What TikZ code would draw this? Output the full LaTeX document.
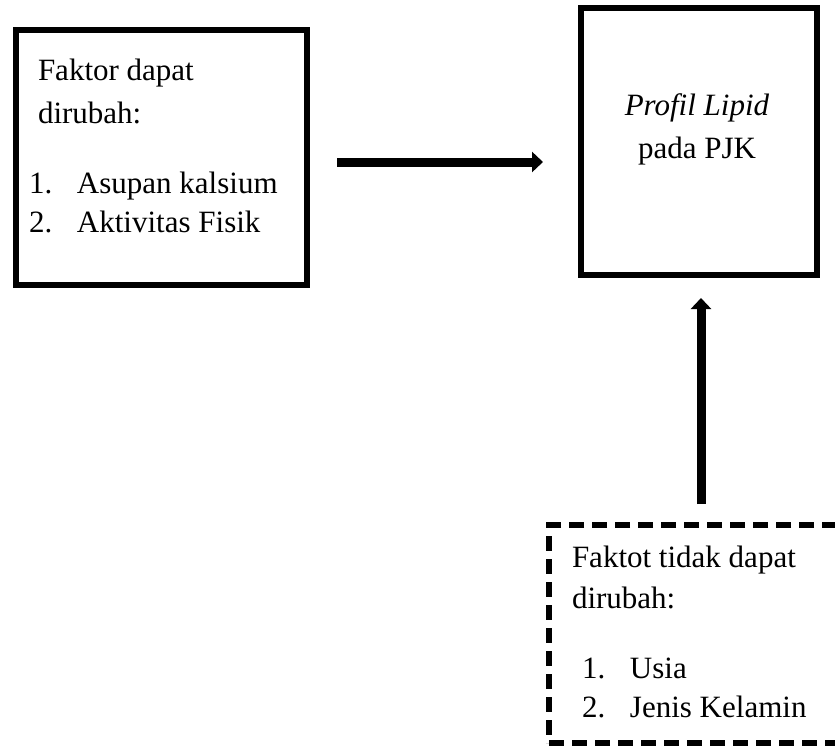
\documentclass[tikz,border=0pt]{standalone}
\usepackage{fontspec}
\setmainfont{Liberation Serif}
\usetikzlibrary{arrows.meta}
\begin{document}
\begin{tikzpicture}[x=1pt,y=-1pt,
  txt/.style={anchor=base west,inner sep=0pt,outer sep=0pt,font=\fontsize{31}{37}\selectfont},
  ctxt/.style={anchor=base,inner sep=0pt,outer sep=0pt,font=\fontsize{31}{37}\selectfont},
  solidbox/.style={draw,line width=6pt,outer sep=0pt,inner sep=0pt},
  dashbox/.style={draw,line width=5.5pt,dash pattern=on 15pt off 8pt,outer sep=0pt,inner sep=0pt},
  arr/.style={line width=9pt,-{Triangle[length=11pt,width=20pt]}}]
\useasboundingbox (0,0) rectangle (835,747);
\clip (0,0) rectangle (835,747);
% boxes
\node[solidbox,minimum width=291pt,minimum height=255pt] (b1) at (161.5,157.5) {};
\node[solidbox,minimum width=236pt,minimum height=267pt] (b2) at (699,141.5) {};
\node[dashbox,minimum width=311pt,minimum height=218pt] (b3) at (704.5,634) {};
% texts box 1
\node[txt] (t1a) at (38,80) {Faktor dapat};
\node[txt] (t1b) at (38,123) {dirubah:};
\node[txt] (t1c) at (29,193) {\makebox[48pt][l]{1.}Asupan kalsium};
\node[txt] (t1d) at (29,232) {\makebox[48pt][l]{2.}Aktivitas Fisik};
% texts box 2
\node[ctxt] (t2a) at (697,115) {\textit{Profil Lipid}};
\node[ctxt] (t2b) at (697,158) {pada PJK};
% texts box 3
\node[txt] (t3a) at (572,567) {Faktot tidak dapat};
\node[txt] (t3b) at (572,608) {dirubah:};
\node[txt] (t3c) at (582,678) {\makebox[48pt][l]{1.}Usia};
\node[txt] (t3d) at (582,717) {\makebox[48pt][l]{2.}Jenis Kelamin};
% arrows
\draw[arr,shorten <=30pt,shorten >=38pt] ([yshift=-4.5pt]b1.east) -- ([yshift=-4.5pt]b1.east -| b2.west);
\draw[arr,shorten <=21pt,shorten >=23pt] ([xshift=-3.5pt]b3.north) -- ([xshift=-3.5pt]b3.north |- b2.south);
\end{tikzpicture}
\end{document}
